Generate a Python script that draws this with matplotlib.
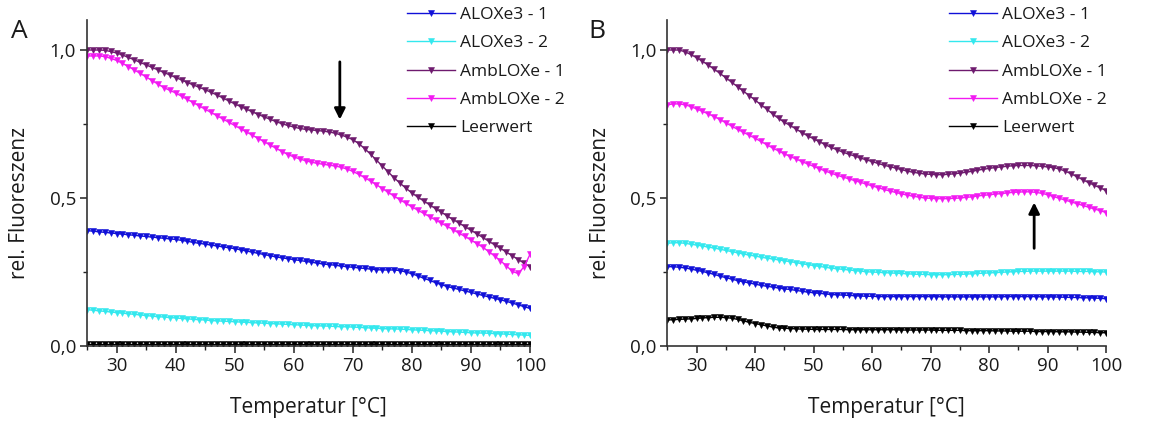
import matplotlib
matplotlib.use("Agg")
import matplotlib.pyplot as plt
from matplotlib.ticker import MultipleLocator, FuncFormatter

plt.rcParams['font.family'] = ['Open Sans', 'DejaVu Sans']

# Temperature axis (one reading per degree)
temperature = list(range(25, 101))

series_names = ["ALOXe3 - 1", "ALOXe3 - 2", "AmbLOXe - 1", "AmbLOXe - 2", "Leerwert"]
series_colors = ["#1010d8", "#33e8ee", "#6e1a6e", "#f21af2", "#000000"]

# ---- Panel A ----
a_aloxe3_1 = [
    0.390, 0.388, 0.386, 0.384, 0.382, 0.380, 0.378, 0.376, 0.374, 0.372,
    0.370, 0.368, 0.366, 0.364, 0.362, 0.360, 0.357, 0.354, 0.350, 0.347,
    0.344, 0.341, 0.338, 0.335, 0.332, 0.329, 0.325, 0.321, 0.317, 0.313,
    0.309, 0.305, 0.301, 0.298, 0.295, 0.292, 0.289, 0.286, 0.283, 0.280,
    0.277, 0.275, 0.273, 0.270, 0.268, 0.266, 0.264, 0.262, 0.260, 0.258,
    0.257, 0.257, 0.257, 0.255, 0.250, 0.244, 0.237, 0.229, 0.222, 0.214,
    0.207, 0.201, 0.196, 0.191, 0.186, 0.181, 0.176, 0.171, 0.166, 0.161,
    0.156, 0.151, 0.145, 0.139, 0.133, 0.127]
a_aloxe3_2 = [
    0.123, 0.121, 0.119, 0.117, 0.115, 0.113, 0.111, 0.109, 0.107, 0.105,
    0.103, 0.101, 0.099, 0.098, 0.096, 0.095, 0.093, 0.092, 0.090, 0.089,
    0.088, 0.086, 0.085, 0.084, 0.083, 0.082, 0.081, 0.080, 0.079, 0.078,
    0.077, 0.076, 0.075, 0.074, 0.073, 0.072, 0.071, 0.070, 0.069, 0.068,
    0.068, 0.067, 0.066, 0.065, 0.065, 0.064, 0.063, 0.062, 0.061, 0.060,
    0.059, 0.058, 0.058, 0.057, 0.056, 0.055, 0.054, 0.053, 0.052, 0.051,
    0.050, 0.049, 0.048, 0.047, 0.046, 0.045, 0.044, 0.044, 0.043, 0.042,
    0.041, 0.040, 0.039, 0.038, 0.037, 0.036]
a_amblox_1 = [
    1.000, 1.000, 1.000, 0.999, 0.995, 0.990, 0.983, 0.975, 0.967, 0.958,
    0.950, 0.941, 0.933, 0.924, 0.916, 0.907, 0.899, 0.890, 0.882, 0.874,
    0.866, 0.857, 0.848, 0.838, 0.828, 0.818, 0.809, 0.800, 0.791, 0.782,
    0.774, 0.766, 0.758, 0.751, 0.745, 0.740, 0.735, 0.732, 0.730, 0.728,
    0.726, 0.723, 0.719, 0.713, 0.706, 0.697, 0.684, 0.667, 0.648, 0.628,
    0.608, 0.588, 0.568, 0.550, 0.533, 0.517, 0.503, 0.490, 0.477, 0.464,
    0.452, 0.439, 0.427, 0.415, 0.403, 0.391, 0.379, 0.367, 0.354, 0.342,
    0.330, 0.317, 0.305, 0.292, 0.280, 0.268]
a_amblox_2 = [
    0.980, 0.980, 0.980, 0.978, 0.972, 0.965, 0.955, 0.944, 0.933, 0.921,
    0.909, 0.897, 0.885, 0.873, 0.864, 0.855, 0.844, 0.833, 0.822, 0.811,
    0.800, 0.789, 0.778, 0.767, 0.756, 0.745, 0.734, 0.723, 0.712, 0.701,
    0.690, 0.679, 0.668, 0.657, 0.647, 0.639, 0.632, 0.626, 0.621, 0.617,
    0.614, 0.611, 0.608, 0.604, 0.598, 0.590, 0.580, 0.569, 0.557, 0.545,
    0.532, 0.519, 0.506, 0.494, 0.482, 0.470, 0.459, 0.448, 0.437, 0.426,
    0.415, 0.404, 0.393, 0.381, 0.370, 0.358, 0.346, 0.334, 0.319, 0.304,
    0.288, 0.271, 0.252, 0.245, 0.268, 0.310]
a_leerwert = [
    0.006, 0.006, 0.006, 0.006, 0.006, 0.006, 0.006, 0.006, 0.006, 0.006,
    0.006, 0.006, 0.006, 0.006, 0.006, 0.006, 0.006, 0.006, 0.006, 0.006,
    0.006, 0.006, 0.006, 0.006, 0.006, 0.006, 0.006, 0.006, 0.006, 0.006,
    0.006, 0.006, 0.006, 0.006, 0.006, 0.006, 0.006, 0.006, 0.006, 0.006,
    0.006, 0.006, 0.006, 0.006, 0.006, 0.006, 0.006, 0.006, 0.006, 0.006,
    0.006, 0.006, 0.006, 0.006, 0.006, 0.006, 0.006, 0.006, 0.006, 0.006,
    0.006, 0.006, 0.006, 0.006, 0.006, 0.006, 0.006, 0.006, 0.006, 0.006,
    0.006, 0.006, 0.006, 0.006, 0.006, 0.006]

# ---- Panel B ----
b_aloxe3_1 = [
    0.268, 0.268, 0.266, 0.264, 0.260, 0.256, 0.252, 0.247, 0.242, 0.236,
    0.231, 0.226, 0.221, 0.217, 0.213, 0.209, 0.205, 0.202, 0.199, 0.196,
    0.193, 0.191, 0.188, 0.185, 0.182, 0.180, 0.178, 0.176, 0.174, 0.173,
    0.172, 0.171, 0.170, 0.169, 0.168, 0.168, 0.167, 0.167, 0.167, 0.167,
    0.167, 0.167, 0.167, 0.167, 0.167, 0.167, 0.167, 0.166, 0.166, 0.166,
    0.166, 0.166, 0.166, 0.166, 0.166, 0.166, 0.166, 0.166, 0.167, 0.167,
    0.167, 0.167, 0.167, 0.167, 0.166, 0.166, 0.166, 0.165, 0.165, 0.164,
    0.164, 0.163, 0.163, 0.162, 0.161, 0.160]
b_aloxe3_2 = [
    0.347, 0.349, 0.349, 0.347, 0.344, 0.341, 0.338, 0.334, 0.331, 0.327,
    0.323, 0.319, 0.315, 0.311, 0.307, 0.304, 0.300, 0.297, 0.294, 0.291,
    0.288, 0.285, 0.282, 0.278, 0.275, 0.272, 0.269, 0.266, 0.263, 0.261,
    0.259, 0.257, 0.255, 0.253, 0.251, 0.250, 0.249, 0.248, 0.247, 0.246,
    0.245, 0.244, 0.243, 0.242, 0.242, 0.241, 0.241, 0.241, 0.241, 0.242,
    0.242, 0.243, 0.244, 0.245, 0.246, 0.247, 0.248, 0.249, 0.250, 0.251,
    0.252, 0.252, 0.253, 0.253, 0.253, 0.253, 0.253, 0.253, 0.253, 0.253,
    0.252, 0.252, 0.252, 0.251, 0.251, 0.250]
b_amblox_1 = [
    1.000, 1.000, 1.000, 0.994, 0.985, 0.974, 0.962, 0.949, 0.935, 0.921,
    0.906, 0.891, 0.876, 0.861, 0.846, 0.831, 0.815, 0.800, 0.784, 0.769,
    0.756, 0.745, 0.733, 0.721, 0.710, 0.700, 0.690, 0.680, 0.671, 0.663,
    0.655, 0.648, 0.642, 0.635, 0.629, 0.623, 0.617, 0.611, 0.606, 0.601,
    0.596, 0.591, 0.587, 0.584, 0.581, 0.580, 0.579, 0.579, 0.580, 0.582,
    0.584, 0.587, 0.590, 0.594, 0.597, 0.600, 0.603, 0.605, 0.607, 0.609,
    0.610, 0.610, 0.610, 0.609, 0.607, 0.605, 0.603, 0.598, 0.591, 0.582,
    0.572, 0.562, 0.552, 0.543, 0.534, 0.525]
b_amblox_2 = [
    0.815, 0.818, 0.818, 0.815, 0.809, 0.801, 0.793, 0.784, 0.775, 0.765,
    0.754, 0.743, 0.732, 0.722, 0.712, 0.702, 0.691, 0.680, 0.669, 0.659,
    0.649, 0.640, 0.632, 0.623, 0.615, 0.607, 0.599, 0.591, 0.584, 0.577,
    0.571, 0.565, 0.559, 0.553, 0.547, 0.541, 0.535, 0.529, 0.524, 0.519,
    0.514, 0.510, 0.506, 0.503, 0.500, 0.499, 0.498, 0.498, 0.498, 0.499,
    0.500, 0.502, 0.504, 0.507, 0.509, 0.511, 0.513, 0.515, 0.517, 0.519,
    0.520, 0.521, 0.521, 0.519, 0.516, 0.511, 0.505, 0.499, 0.493, 0.487,
    0.481, 0.475, 0.469, 0.463, 0.457, 0.451]
b_leerwert = [
    0.088, 0.089, 0.090, 0.091, 0.092, 0.093, 0.095, 0.096, 0.097, 0.097,
    0.096, 0.094, 0.090, 0.085, 0.080, 0.076, 0.072, 0.068, 0.064, 0.061,
    0.060, 0.059, 0.058, 0.057, 0.057, 0.056, 0.056, 0.056, 0.056, 0.056,
    0.056, 0.055, 0.055, 0.055, 0.055, 0.055, 0.055, 0.055, 0.055, 0.055,
    0.054, 0.054, 0.054, 0.054, 0.054, 0.054, 0.053, 0.053, 0.053, 0.053,
    0.053, 0.052, 0.052, 0.052, 0.052, 0.052, 0.051, 0.051, 0.051, 0.050,
    0.050, 0.050, 0.050, 0.049, 0.049, 0.049, 0.049, 0.048, 0.048, 0.048,
    0.047, 0.047, 0.046, 0.046, 0.045, 0.045]

panel_a = [a_aloxe3_1, a_aloxe3_2, a_amblox_1, a_amblox_2, a_leerwert]
panel_b = [b_aloxe3_1, b_aloxe3_2, b_amblox_1, b_amblox_2, b_leerwert]

# arrows: (x, y_tail, y_head)
arrow_a = (67.8, 0.96, 0.765)
arrow_b = (87.7, 0.33, 0.485)

fig = plt.figure(figsize=(11.54, 4.21), dpi=100)
ax_a = fig.add_axes([0.0754, 0.1781, 0.3839, 0.7734])
ax_b = fig.add_axes([0.5783, 0.1781, 0.3802, 0.7734])

comma_fmt = FuncFormatter(lambda v, pos: f"{v:.1f}".replace(".", ","))
text_color = "#1a1a1a"


def draw_panel(ax, data, letter, letter_x, arrow, legend_x):
    for values, name, color in zip(data, series_names, series_colors):
        ax.plot(temperature, values, color=color, lw=1.0, marker='v',
                markersize=4.2, markeredgewidth=0.4, label=name)
    ax.set_xlim(25, 100)
    ax.set_ylim(0, 1.1)
    ax.xaxis.set_major_locator(MultipleLocator(10))
    ax.xaxis.set_minor_locator(MultipleLocator(5))
    ax.yaxis.set_major_locator(MultipleLocator(0.5))
    ax.yaxis.set_minor_locator(MultipleLocator(0.25))
    ax.yaxis.set_major_formatter(comma_fmt)
    for side in ("top", "right"):
        ax.spines[side].set_visible(False)
    for side in ("left", "bottom"):
        ax.spines[side].set_linewidth(1.2)
        ax.spines[side].set_color("#333333")
    ax.tick_params(which='major', direction='out', length=5, width=1.1,
                   labelsize=13.5, colors="#222222", labelcolor=text_color, pad=3)
    ax.tick_params(which='minor', direction='out', length=3, width=1.0,
                   colors="#222222")
    ax.set_xlabel("Temperatur [°C]", fontsize=15, labelpad=16, color=text_color)
    ax.set_ylabel("rel. Fluoreszenz", fontsize=15, color=text_color)
    ax.yaxis.set_label_coords(-0.128, 0.44)
    ax.annotate("", xy=(arrow[0], arrow[2]), xytext=(arrow[0], arrow[1]),
                arrowprops=dict(arrowstyle='-|>', color='black', lw=2,
                                mutation_scale=16, shrinkA=0, shrinkB=0))
    fig.text(letter_x, 1 - 31 / 421, letter, fontsize=19,
             va='center', ha='left', color=text_color)
    ax.legend(loc='upper left', bbox_to_anchor=(legend_x, 1 - 7 / 421),
              bbox_transform=fig.transFigure, frameon=False, fontsize=12.5,
              handlelength=2.75, handletextpad=0.3, labelspacing=0.7,
              numpoints=1, borderaxespad=0, borderpad=0.0,
              labelcolor=text_color)


draw_panel(ax_a, panel_a, "A", 11 / 1154, arrow_a, 407 / 1154)
draw_panel(ax_b, panel_b, "B", 588 / 1154, arrow_b, 949 / 1154)

fig.savefig("out.png", dpi=100)
